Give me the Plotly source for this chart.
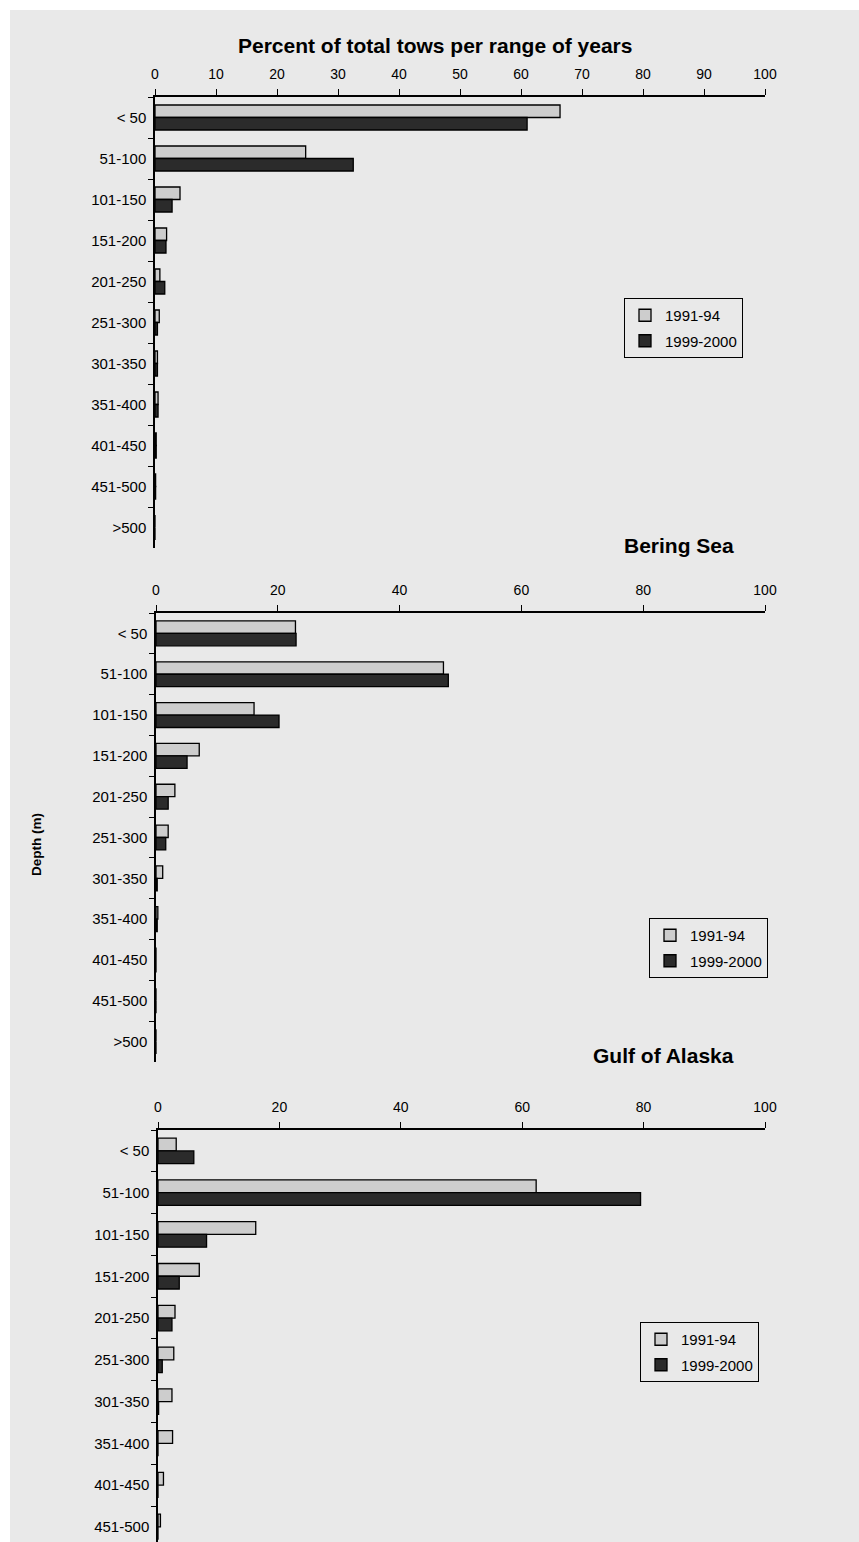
import plotly.graph_objects as go

W, H = 859, 1542

categories = ["< 50", "51-100", "101-150", "151-200", "201-250", "251-300",
              "301-350", "351-400", "401-450", "451-500", ">500"]
series_names = ["1991-94", "1999-2000"]

all_9194 = [66.4, 24.7, 4.1, 1.9, 0.8, 0.7, 0.4, 0.5, 0.2, 0.1, 0.0]
all_9900 = [61.0, 32.5, 2.8, 1.8, 1.6, 0.4, 0.4, 0.5, 0.2, 0.1, 0.0]

bering_9194 = [22.9, 47.2, 16.1, 7.1, 3.1, 2.0, 1.1, 0.3, 0.0, 0.0, 0.0]
bering_9900 = [23.0, 48.0, 20.2, 5.1, 2.0, 1.6, 0.2, 0.2, 0.0, 0.0, 0.0]

gulf_9194 = [3.0, 62.3, 16.1, 6.8, 2.8, 2.6, 2.3, 2.4, 0.9, 0.4, 0.0]
gulf_9900 = [5.9, 79.5, 8.0, 3.5, 2.3, 0.7, 0.1, 0.0, 0.0, 0.0, 0.0]

titles = ["Percent of total tows per range of years", "Bering Sea", "Gulf of Alaska"]
ytitle = "Depth (m)"

LIGHT = "#cdcdcd"
DARK = "#2b2b2b"
BG = "#e9e9e9"
FONT = "Liberation Sans, Arial, sans-serif"


def px(x):
    return x / W


def py(y):
    return 1 - y / H


fig = go.Figure()

panels = [
    # (light, dark, xaxis, yaxis, legend, x0, x1, ytop, ybot, dtick, yrange)
    (all_9194, all_9900, "x", "y", "legend", 155, 765, 97, 548, 10, [10.5, -0.5]),
    (bering_9194, bering_9900, "x2", "y2", "legend2", 156, 765, 613, 1062, 20, [10.5, -0.5]),
    (gulf_9194, gulf_9900, "x3", "y3", "legend3", 158, 765, 1130, 1542, 20, [9.36, -0.5]),
]

for i, (lv, dv, xa, ya, lg, x0, x1, yt, yb, dt, yr) in enumerate(panels):
    for name, vals, col in [(series_names[0], lv, LIGHT), (series_names[1], dv, DARK)]:
        fig.add_trace(go.Bar(
            y=categories, x=vals, orientation="h", name=name,
            marker=dict(color=col, line=dict(color="black", width=1.3)),
            xaxis=xa, yaxis=ya, legend=lg, legendgroup=f"{lg}-{name}",
        ))
    sfx = "" if i == 0 else str(i + 1)
    fig.update_layout(**{
        f"xaxis{sfx}": dict(
            domain=[px(x0), px(x1)], anchor=ya, side="top", range=[0, 100],
            dtick=dt, tick0=0, showgrid=False, zeroline=False, showline=True,
            linecolor="black", linewidth=1.5, ticks="outside", ticklen=6,
            tickcolor="black", tickwidth=1.3, automargin=False,
            tickfont=dict(family=FONT, size=14, color="black"),
            ticklabelstandoff=5,
        ),
        f"yaxis{sfx}": dict(
            domain=[py(yb), py(yt)], anchor=xa, type="category",
            categoryorder="array", categoryarray=categories, range=yr,
            showgrid=False, zeroline=False, showline=True, linecolor="black",
            linewidth=1.5, ticks="outside", ticklen=5, tickson="boundaries",
            tickcolor="black", tickwidth=1.3, automargin=False,
            tickfont=dict(family=FONT, size=15, color="black"),
            ticklabelstandoff=4,
        ),
    })

legend_style = dict(
    bgcolor="rgba(0,0,0,0)", bordercolor="black", borderwidth=1,
    font=dict(family=FONT, size=15, color="black"),
    xanchor="left", yanchor="top", traceorder="grouped", tracegroupgap=3,
)
fig.update_layout(
    legend=dict(x=px(624), y=py(298), **legend_style),
    legend2=dict(x=px(649), y=py(918), **legend_style),
    legend3=dict(x=px(640), y=py(1322), **legend_style),
)

annotations = [
    dict(text=f"<b>{titles[0]}</b>", x=px(435), y=py(45), xanchor="center",
         yanchor="middle", font=dict(family=FONT, size=21, color="black")),
    dict(text=f"<b>{titles[1]}</b>", x=px(736), y=py(545), xanchor="right",
         yanchor="middle", font=dict(family=FONT, size=21, color="black")),
    dict(text=f"<b>{titles[2]}</b>", x=px(736), y=py(1055), xanchor="right",
         yanchor="middle", font=dict(family=FONT, size=21, color="black")),
    dict(text=f"<b>{ytitle}</b>", x=px(36), y=py(845), xanchor="center",
         yanchor="middle", textangle=-90, font=dict(family=FONT, size=13.5, color="black")),
]
for a in annotations:
    a.update(xref="paper", yref="paper", showarrow=False)

fig.update_layout(
    width=W, height=H, margin=dict(l=0, r=0, t=0, b=0),
    paper_bgcolor="white", plot_bgcolor="rgba(0,0,0,0)",
    barmode="group", bargap=0.39, bargroupgap=0.0,
    annotations=annotations,
    shapes=[dict(type="rect", xref="paper", yref="paper", x0=px(10), x1=1,
                 y0=0, y1=py(10), fillcolor=BG, line=dict(width=0), layer="below")],
)

fig.write_html("out.html")
